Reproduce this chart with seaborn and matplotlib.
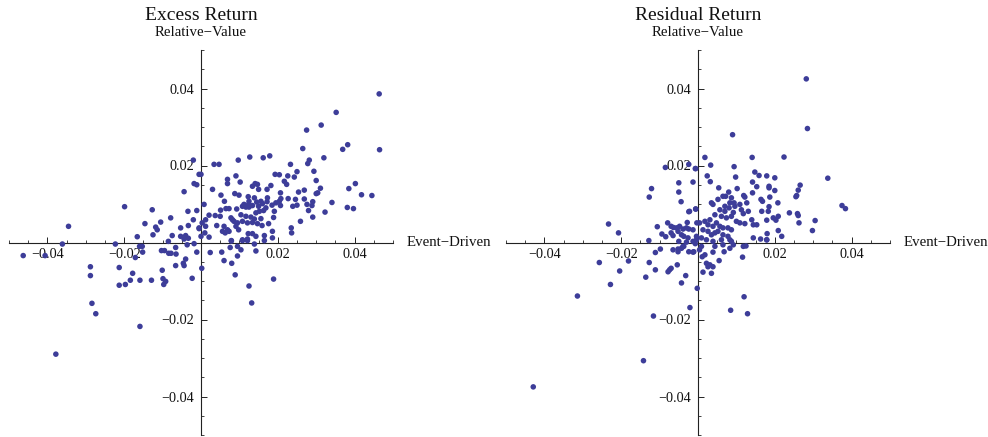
import numpy as np
import pandas as pd
import matplotlib
matplotlib.use("Agg")
import matplotlib.pyplot as plt
import seaborn as sns
from matplotlib.ticker import FixedLocator, MultipleLocator

# ---------------- data ----------------
excess_x = [
    -0.0020, -0.0005, -0.0018, -0.0011, -0.0044, -0.0199, -0.0127, -0.0034, -0.0011, -0.0079,
    -0.0020, -0.0146, -0.0105, -0.0345, -0.0118, -0.0114, -0.0053, -0.0033, -0.0005, -0.0125,
    -0.0166, -0.0075, -0.0053, -0.0040, -0.0033, -0.0044, -0.0085, -0.0361, -0.0223, -0.0160,
    -0.0153, -0.0066, -0.0036, -0.0018, -0.0463, -0.0406,
    -0.0152, -0.0171, -0.0103, -0.0095, -0.0084, -0.0078, -0.0065, -0.0011, -0.0040, -0.0066,
    -0.0046, -0.0044, -0.0288, -0.0288, -0.0213, -0.0178, -0.0184, -0.0213, -0.0197, -0.0159,
    -0.0129, -0.0101, -0.0099, -0.0092, -0.0097, -0.0023, -0.0284, -0.0274, -0.0159, -0.0378,
    0.0002, 0.0024, 0.0054, 0.0076, 0.0060, 0.0080, 0.0095, 0.0104, 0.0089, 0.0139,
    0.0143, 0.0125, 0.0132, 0.0189, 0.0079, 0.0108, 0.0121, 0.0165,
    0.0464, 0.0352, 0.0313, 0.0275, 0.0465, 0.0382, 0.0369, 0.0265, 0.0320, 0.0282,
    0.0278, 0.0233, 0.0250, 0.0243, 0.0226, 0.0294, 0.0300, 0.0193, 0.0204, 0.0217,
    0.0223, 0.0179, 0.0162, 0.0127, 0.0097, 0.0034, 0.0047, 0.0000, 0.0069, 0.0069,
    0.0091, 0.0102, 0.0030, 0.0141, 0.0147, 0.0134, 0.0150, 0.0172, 0.0182, 0.0207,
    0.0254, 0.0269, 0.0311, 0.0304, 0.0300, 0.0385, 0.0402, 0.0418, 0.0445, 0.0381,
    0.0397, 0.0341, 0.0323, 0.0291, 0.0289, 0.0280, 0.0276, 0.0269, 0.0291, 0.0250,
    0.0239, 0.0246, 0.0227, 0.0259, 0.0235, 0.0236, 0.0208, 0.0204, 0.0195, 0.0207,
    0.0185, 0.0191, 0.0173, 0.0172, 0.0156, 0.0160, 0.0145, 0.0150, 0.0139, 0.0123,
    0.0125, 0.0088, 0.0099, 0.0052, 0.0061, 0.0008, 0.0065, 0.0073, 0.0051, 0.0037,
    0.0050, 0.0021, 0.0093, 0.0108, 0.0117, 0.0125, 0.0134, 0.0124, 0.0112, 0.0104,
    0.0117, 0.0130, 0.0143, 0.0152, 0.0163, 0.0169, 0.0156, 0.0139, 0.0189, 0.0078,
    0.0082, 0.0086, 0.0095, 0.0108, 0.0121, 0.0134, 0.0147, 0.0159, 0.0176, 0.0012,
    0.0003, 0.0012, -0.0005, 0.0041, 0.0060, 0.0069, 0.0056, 0.0063, 0.0073, 0.0091,
    0.0098, 0.0123, 0.0134, 0.0143, 0.0165, 0.0186, 0.0186, 0.0010, 0.0021, 0.0000,
    0.0079, 0.0095, 0.0108, 0.0121,
]
excess_y = [
    0.0214, 0.0177, 0.0153, 0.0150, 0.0132, 0.0093, 0.0085, 0.0081, 0.0083, 0.0064,
    0.0059, 0.0049, 0.0053, 0.0042, 0.0040, 0.0033, 0.0038, 0.0044, 0.0036, 0.0020,
    0.0015, 0.0018, 0.0016, 0.0018, 0.0011, 0.0009, 0.0003, -0.0004, -0.0004, -0.0010,
    -0.0010, -0.0013, -0.0006, -0.0003, -0.0034, -0.0034,
    -0.0025, -0.0039, -0.0021, -0.0021, -0.0028, -0.0028, -0.0030, -0.0025, -0.0043, -0.0060,
    -0.0054, -0.0060, -0.0063, -0.0086, -0.0065, -0.0080, -0.0098, -0.0111, -0.0109, -0.0098,
    -0.0098, -0.0072, -0.0094, -0.0101, -0.0109, -0.0093, -0.0158, -0.0185, -0.0218, -0.0290,
    -0.0067, -0.0026, -0.0025, -0.0013, -0.0047, -0.0054, -0.0035, -0.0019, -0.0084, -0.0004,
    -0.0022, -0.0113, -0.0157, -0.0095, 0.0005, 0.0005, 0.0005, 0.0005,
    0.0386, 0.0338, 0.0305, 0.0292, 0.0241, 0.0254, 0.0242, 0.0244, 0.0220, 0.0214,
    0.0205, 0.0203, 0.0184, 0.0170, 0.0173, 0.0185, 0.0161, 0.0177, 0.0176, 0.0159,
    0.0151, 0.0225, 0.0220, 0.0222, 0.0214, 0.0203, 0.0203, 0.0177, 0.0164, 0.0153,
    0.0173, 0.0157, 0.0138, 0.0153, 0.0151, 0.0146, 0.0138, 0.0138, 0.0148, 0.0129,
    0.0131, 0.0136, 0.0141, 0.0129, 0.0127, 0.0140, 0.0153, 0.0124, 0.0122, 0.0091,
    0.0088, 0.0104, 0.0079, 0.0106, 0.0096, 0.0083, 0.0099, 0.0113, 0.0066, 0.0097,
    0.0094, 0.0112, 0.0114, 0.0055, 0.0038, 0.0025, 0.0114, 0.0107, 0.0103, 0.0096,
    0.0097, 0.0081, 0.0116, 0.0106, 0.0107, 0.0101, 0.0105, 0.0094, 0.0116, 0.0119,
    0.0107, 0.0127, 0.0123, 0.0123, 0.0107, 0.0099, 0.0088, 0.0088, 0.0084, 0.0070,
    0.0068, 0.0071, 0.0087, 0.0094, 0.0092, 0.0092, 0.0096, 0.0099, 0.0099, 0.0072,
    0.0068, 0.0066, 0.0077, 0.0081, 0.0083, 0.0090, 0.0062, 0.0061, 0.0065, 0.0064,
    0.0059, 0.0055, 0.0051, 0.0055, 0.0051, 0.0052, 0.0049, 0.0044, 0.0049, 0.0059,
    0.0051, 0.0042, 0.0038, 0.0044, 0.0042, 0.0033, 0.0029, 0.0025, 0.0029, 0.0042,
    0.0033, 0.0023, 0.0023, 0.0016, 0.0018, 0.0029, 0.0012, 0.0025, 0.0014, 0.0016,
    0.0004, -0.0010, 0.0007, 0.0009,
]

resid_x = [
    -0.0085, -0.0024, -0.0007, -0.0050, -0.0013, -0.0121, -0.0127, -0.0050, -0.0044, -0.0006,
    -0.0024, -0.0233, -0.0207, -0.0106, -0.0079, -0.0070, -0.0028, -0.0003, -0.0064, -0.0056,
    -0.0048, -0.0039, -0.0030, -0.0024, -0.0094, -0.0084, -0.0070, -0.0065, -0.0052, -0.0043,
    -0.0037, -0.0026, -0.0128, -0.0050, -0.0030, -0.0013, -0.0004, -0.0111, -0.0098, -0.0065,
    -0.0052, -0.0039, -0.0024, -0.0011,
    -0.0257, -0.0181, -0.0204, -0.0228, -0.0314, -0.0127, -0.0111, -0.0136, -0.0078, -0.0074,
    -0.0070, -0.0054, -0.0032, -0.0043, -0.0002, -0.0021, -0.0116, -0.0142, -0.0429, -0.0043,
    -0.0037, -0.0007, -0.0013, -0.0052,
    0.0004, 0.0009, 0.0011, 0.0018, 0.0022, 0.0026, 0.0031, 0.0035, 0.0039, 0.0013,
    0.0055, 0.0044, 0.0039, 0.0065, 0.0068, 0.0083, 0.0092, 0.0087, 0.0118, 0.0125,
    0.0116, 0.0179, 0.0120, 0.0085, 0.0129,
    0.0282, 0.0285, 0.0090, 0.0018, 0.0141, 0.0224, 0.0033, 0.0094, -0.0006, 0.0338,
    0.0024, 0.0032, 0.0098, 0.0148, 0.0159, 0.0179, 0.0200, 0.0142, 0.0153, 0.0185,
    0.0185, 0.0200, 0.0266, 0.0261, 0.0257, 0.0255, 0.0054, 0.0102, 0.0080, 0.0072,
    0.0087, 0.0119, 0.0122, 0.0142, 0.0164, 0.0168, 0.0187, 0.0208, 0.0185, 0.0035,
    0.0039, 0.0052, 0.0065,
    0.0070, 0.0083, 0.0094, 0.0109, 0.0127, 0.0096, 0.0081, 0.0113, 0.0131, 0.0118,
    0.0092, 0.0070, 0.0057, 0.0044, 0.0061, 0.0074, 0.0087, 0.0100, 0.0109, 0.0122,
    0.0140, 0.0144, 0.0153, 0.0166, 0.0183, 0.0179, 0.0196, 0.0203, 0.0209, 0.0238,
    0.0259, 0.0261, 0.0263, 0.0305, 0.0209, 0.0298, 0.0218, 0.0180, 0.0179, 0.0163,
    0.0144, 0.0375, 0.0384, -0.0022, -0.0006,
    0.0004, 0.0018, 0.0026, 0.0031, 0.0039, 0.0048, 0.0057, 0.0065, 0.0013, 0.0026,
    0.0035, 0.0044, 0.0052, 0.0065, 0.0078, 0.0083, 0.0061, 0.0039, 0.0022, 0.0009,
    -0.0004, -0.0013, 0.0087, 0.0078,
]
resid_y = [
    0.0195, 0.0203, 0.0192, 0.0155, 0.0157, 0.0140, 0.0118, 0.0131, 0.0106, 0.0087,
    0.0080, 0.0048, 0.0025, 0.0041, 0.0051, 0.0042, 0.0052, 0.0051, 0.0039, 0.0038,
    0.0042, 0.0035, 0.0038, 0.0035, 0.0022, 0.0015, 0.0025, 0.0018, 0.0029, 0.0020,
    0.0016, 0.0012, 0.0005, 0.0003, 0.0001, 0.0003, 0.0007, -0.0026, -0.0017, -0.0019,
    -0.0017, -0.0010, -0.0024, -0.0024,
    -0.0052, -0.0048, -0.0074, -0.0109, -0.0139, -0.0052, -0.0071, -0.0090, -0.0076, -0.0071,
    -0.0067, -0.0058, -0.0086, -0.0105, -0.0119, -0.0169, -0.0191, -0.0307, -0.0375, -0.0015,
    -0.0010, -0.0003, -0.0025, -0.0024,
    -0.0019, -0.0010, -0.0037, -0.0032, -0.0054, -0.0063, -0.0058, -0.0080, -0.0063, -0.0077,
    -0.0047, -0.0010, -0.0025, -0.0006, -0.0024, -0.0015, -0.0006, 0.0003, -0.0010, -0.0009,
    -0.0038, 0.0007, -0.0141, -0.0176, -0.0185,
    0.0425, 0.0296, 0.0280, 0.0221, 0.0221, 0.0222, 0.0201, 0.0197, 0.0192, 0.0167,
    0.0173, 0.0158, 0.0170, 0.0183, 0.0174, 0.0173, 0.0168, 0.0157, 0.0145, 0.0146,
    0.0142, 0.0135, 0.0149, 0.0136, 0.0122, 0.0119, 0.0142, 0.0140, 0.0131, 0.0120,
    0.0116, 0.0122, 0.0118, 0.0129, 0.0112, 0.0107, 0.0118, 0.0103, 0.0093, 0.0103,
    0.0099, 0.0112, 0.0120,
    0.0094, 0.0103, 0.0103, 0.0099, 0.0103, 0.0094, 0.0090, 0.0085, 0.0081, 0.0075,
    0.0078, 0.0081, 0.0085, 0.0072, 0.0068, 0.0064, 0.0068, 0.0055, 0.0051, 0.0049,
    0.0059, 0.0046, 0.0046, 0.0081, 0.0081, 0.0058, 0.0064, 0.0058, 0.0068, 0.0077,
    0.0075, 0.0070, 0.0051, 0.0057, 0.0031, 0.0031, 0.0016, 0.0023, 0.0007, 0.0009,
    0.0012, 0.0096, 0.0088, 0.0081, 0.0087,
    0.0051, 0.0055, 0.0046, 0.0059, 0.0042, 0.0051, 0.0042, 0.0038, 0.0033, 0.0029,
    0.0020, 0.0025, 0.0029, 0.0020, 0.0016, 0.0007, 0.0007, 0.0003, 0.0007, 0.0012,
    0.0016, 0.0033, 0.0033, 0.0038,
]

titles = ["Excess Return", "Residual Return"]
y_label = "Relative\u2212Value"
x_label = "Event\u2212Driven"
major_ticks = [-0.04, -0.02, 0.02, 0.04]
tick_labels = ["\u22120.04", "\u22120.02", "0.02", "0.04"]

# ---------------- style ----------------
sns.set_style("white")
plt.rcParams["font.family"] = ["Liberation Serif", "DejaVu Serif"]
plt.rcParams["axes.unicode_minus"] = True

POINT = "#3d3d99"
W, H = 988, 437
fig = plt.figure(figsize=(W / 100, H / 100), dpi=100)

axes_px = [(9, 50, 384, 385), (506, 50, 384, 385)]
datasets = [(excess_x, excess_y), (resid_x, resid_y)]

for (px, py, pw, ph), (xs, ys), title in zip(axes_px, datasets, titles):
    ax = fig.add_axes([px / W, 1 - (py + ph) / H, pw / W, ph / H])
    df = pd.DataFrame({"x": xs, "y": ys})
    sns.scatterplot(data=df, x="x", y="y", ax=ax, color=POINT, s=16,
                    linewidth=0, edgecolor="none", clip_on=False, zorder=3)
    ax.set_xlim(-0.05, 0.05)
    ax.set_ylim(-0.05, 0.05)
    ax.set_xlabel("")
    ax.set_ylabel("")
    for side in ("top", "right"):
        ax.spines[side].set_visible(False)
    for side in ("left", "bottom"):
        ax.spines[side].set_position("zero")
        ax.spines[side].set_color("#222222")
        ax.spines[side].set_linewidth(0.8)
        ax.spines[side].set_zorder(2)
    ax.xaxis.set_major_locator(FixedLocator(major_ticks))
    ax.yaxis.set_major_locator(FixedLocator(major_ticks))
    ax.set_xticklabels(tick_labels)
    ax.set_yticklabels(tick_labels)
    ax.xaxis.set_minor_locator(MultipleLocator(0.005))
    ax.yaxis.set_minor_locator(MultipleLocator(0.005))
    ax.tick_params(which="both", bottom=True, left=True, top=False, right=False)
    ax.tick_params(which="major", direction="in", length=4.5, width=0.7,
                   color="#222222", labelsize=10.3, labelcolor="#111111")
    ax.tick_params(which="minor", direction="in", length=2.5, width=0.6,
                   color="#222222")
    ax.tick_params(axis="x", which="major", pad=4)
    ax.tick_params(axis="y", which="major", pad=5)
    ax.text(0.0535, 0, x_label, ha="left", va="center", fontsize=10.7,
            color="#111111", clip_on=False)
    cx = (px + pw / 2) / W
    fig.text(cx, 1 - 15 / H, title, ha="center", va="center", fontsize=14,
             color="#111111")
    fig.text(cx, 1 - 33 / H, y_label, ha="center", va="center", fontsize=10.7,
             color="#111111")

fig.savefig("out.png", dpi=100)
